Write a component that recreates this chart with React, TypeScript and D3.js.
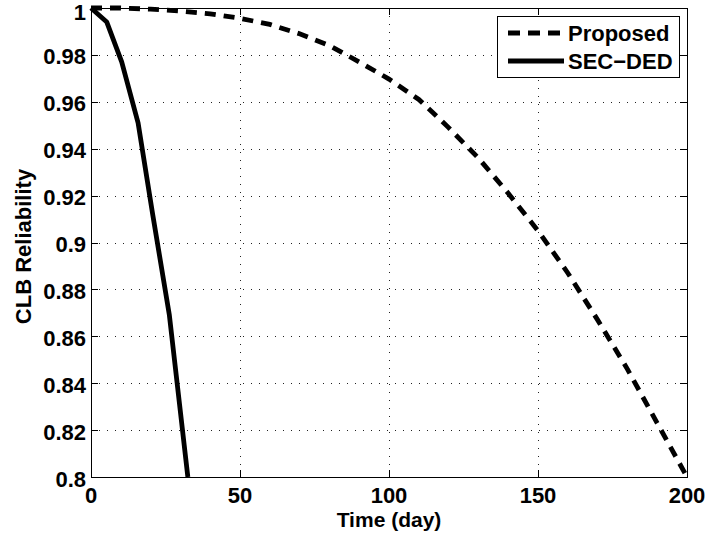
import { useMemo } from "react"
import * as d3 from "d3"

// values
const proposedDays = [0, 10, 20, 30, 40, 50, 60, 70, 80, 90, 100, 110, 120, 130, 140, 150, 160, 170, 180, 190, 200]
const proposedValues = [1.0, 1.0, 0.9995, 0.9987, 0.9975, 0.9956, 0.993, 0.989, 0.984, 0.977, 0.9697, 0.961, 0.949, 0.936, 0.921, 0.905, 0.887, 0.867, 0.846, 0.823, 0.8]

const secDays = [0, 5.3, 10.3, 15.8, 20.7, 26.3, 32.5]
const secValues = [1.0, 0.994, 0.977, 0.951, 0.912, 0.869, 0.8]

const xTicks = [0, 50, 100, 150, 200]
const yTicks = [0.8, 0.82, 0.84, 0.86, 0.88, 0.9, 0.92, 0.94, 0.96, 0.98, 1]
const yTickLabels = ["0.8", "0.82", "0.84", "0.86", "0.88", "0.9", "0.92", "0.94", "0.96", "0.98", "1"]

const seriesNames = ["Proposed", "SEC\u2212DED"]

const WIDTH = 705
const HEIGHT = 537
const margin = { top: 8, right: 18, bottom: 60, left: 91 }
const FONT = "'Liberation Sans', Arial, Helvetica, sans-serif"
const FS = 22

export default function App() {
    const innerW = WIDTH - margin.left - margin.right
    const innerH = HEIGHT - margin.top - margin.bottom

    const x = useMemo(() => d3.scaleLinear().domain([0, 200]).range([0, innerW]), [innerW])
    const y = useMemo(() => d3.scaleLinear().domain([0.8, 1]).range([innerH, 0]), [innerH])

    const line = d3.line<[number, number]>()
        .x(d => x(d[0]))
        .y(d => y(d[1]))

    const proposed = proposedDays.map((d, i) => [d, proposedValues[i]] as [number, number])
    const sec = secDays.map((d, i) => [d, secValues[i]] as [number, number])

    const tick = 7
    const dash = "11,8"
    const lw = 4.8

    return (
        <svg
            width={WIDTH}
            height={HEIGHT}
            style={{ position: "absolute", left: 0, top: 0, background: "#fff" }}
            fontFamily={FONT}
        >
            <defs>
                <clipPath id="plotClip">
                    <rect x={-6} y={-6} width={innerW + 12} height={innerH + 6} />
                </clipPath>
            </defs>
            <g transform={`translate(${margin.left},${margin.top})`}>
                {/* grid */}
                {yTicks.map(t => (
                    <line key={"gy" + t} x1={0} x2={innerW} y1={Math.round(y(t)) + 0.5} y2={Math.round(y(t)) + 0.5}
                        stroke="#222" strokeWidth={1} strokeDasharray="1,7" />
                ))}
                {xTicks.map(t => (
                    <line key={"gx" + t} y1={0} y2={innerH} x1={Math.round(x(t)) + 0.5} x2={Math.round(x(t)) + 0.5}
                        stroke="#222" strokeWidth={1} strokeDasharray="1,7" />
                ))}

                {/* ticks on all four sides */}
                {yTicks.map(t => (
                    <g key={"ty" + t}>
                        <line x1={0} x2={tick} y1={Math.round(y(t)) + 0.5} y2={Math.round(y(t)) + 0.5} stroke="#000" />
                        <line x1={innerW - tick} x2={innerW} y1={Math.round(y(t)) + 0.5} y2={Math.round(y(t)) + 0.5} stroke="#000" />
                    </g>
                ))}
                {xTicks.map(t => (
                    <g key={"tx" + t}>
                        <line y1={innerH - tick} y2={innerH} x1={Math.round(x(t)) + 0.5} x2={Math.round(x(t)) + 0.5} stroke="#000" />
                        <line y1={0} y2={tick} x1={Math.round(x(t)) + 0.5} x2={Math.round(x(t)) + 0.5} stroke="#000" />
                    </g>
                ))}

                {/* box */}
                <rect x={0.5} y={0.5} width={innerW} height={innerH} fill="none" stroke="#000" strokeWidth={1} />

                {/* series */}
                <g clipPath="url(#plotClip)">
                    <path d={line(proposed) ?? ""} fill="none" stroke="#000" strokeWidth={lw} strokeDasharray={dash} />
                    <path d={line(sec) ?? ""} fill="none" stroke="#000" strokeWidth={lw} strokeLinejoin="round" />
                </g>

                {/* tick labels */}
                {yTicks.map((t, i) => (
                    <text key={"ly" + t} x={-5} y={y(t) + (t === 1 ? 4.5 : 2)} textAnchor="end" dominantBaseline="central"
                        fontSize={FS} fontWeight="bold" fill="#000">{yTickLabels[i]}</text>
                ))}
                {xTicks.map(t => (
                    <text key={"lx" + t} x={x(t)} y={innerH + 26} textAnchor="middle"
                        fontSize={FS} fontWeight="bold" fill="#000">{t}</text>
                ))}

                {/* axis labels */}
                <text x={innerW / 2} y={innerH + 50} textAnchor="middle" fontSize={FS - 1} fontWeight="bold" fill="#000">
                    Time (day)
                </text>
                <text transform={`translate(${31 - margin.left},${innerH / 2 + 4}) rotate(-90)`} textAnchor="middle"
                    fontSize={FS} fontWeight="bold" fill="#000">
                    CLB Reliability
                </text>

                {/* legend */}
                <g transform={`translate(${497 - margin.left},${16 - margin.top})`}>
                    <rect x={0.5} y={0.5} width={182} height={61} fill="#fff" stroke="#000" strokeWidth={1} />
                    <line x1={11} x2={67} y1={17} y2={17} stroke="#000" strokeWidth={lw} strokeDasharray="12,8" />
                    <line x1={11} x2={67} y1={45} y2={45} stroke="#000" strokeWidth={lw} />
                    <text x={71} y={17} dominantBaseline="central" fontSize={FS} fontWeight="bold" fill="#000">{seriesNames[0]}</text>
                    <text x={71} y={45} dominantBaseline="central" fontSize={FS} fontWeight="bold" fill="#000">{seriesNames[1]}</text>
                </g>
            </g>
        </svg>
    )
}
